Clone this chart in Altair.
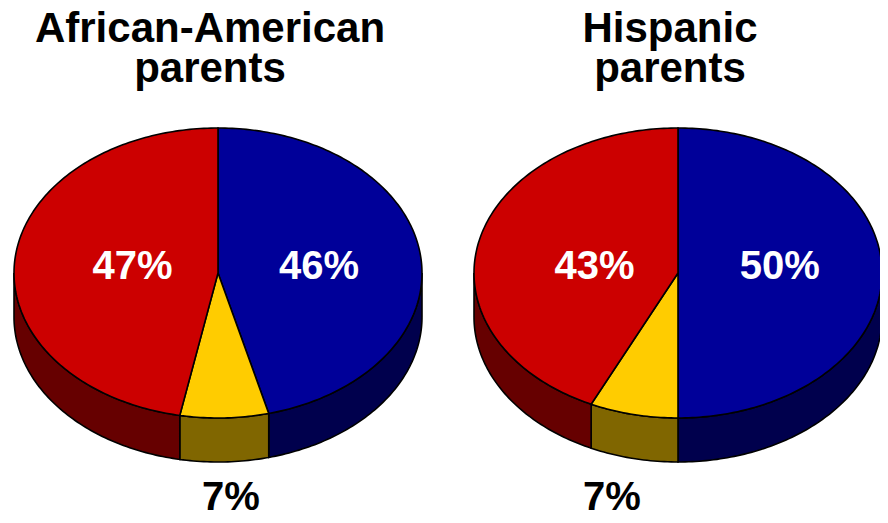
import numpy as np
import pandas as pd
import altair as alt

# ---- data ----
groups = ["African-American parents", "Hispanic parents"]
title_lines = [["African-American", "parents"], ["Hispanic", "parents"]]
slice_names = ["Blue segment", "Yellow segment", "Red segment"]
african_american = [46, 7, 47]
hispanic = [50, 7, 43]
group_values = [african_american, hispanic]

# ---- style / layout ----
top_colors = ["#000099", "#FFCC00", "#CC0000"]
side_colors = ["#00004D", "#806600", "#660000"]
label_colors = ["white", "black", "white"]
centers_x = [218, 678]
cy, rx, ry, depth = 273, 204, 145, 44
FONT = "Liberation Sans"


def pt(cx, deg, dy=0.0):
    r = np.deg2rad(deg)
    return [float(cx + rx * np.sin(r)), float(cy - ry * np.cos(r) + dy)]


def arc(cx, a, b, dy=0.0):
    n = max(2, int(np.ceil((b - a) / 1.0)) + 1)
    return [pt(cx, d, dy) for d in np.linspace(a, b, n)]


sides, tops, labels = [], [], []
for gi, (grp, vals) in enumerate(zip(groups, group_values)):
    cx = centers_x[gi]
    total = float(sum(vals))
    start = 0.0
    for si, v in enumerate(vals):
        a = start
        b = start + 360.0 * v / total
        start = b
        # top face
        ring = [[float(cx), float(cy)]] + arc(cx, a, b) + [[float(cx), float(cy)]]
        tops.append({"type": "Feature",
                     "geometry": {"type": "Polygon", "coordinates": [ring]},
                     "properties": {"fill": top_colors[si], "name": slice_names[si], "group": grp}})
        # visible side face (front half: 90..270 deg)
        lo, hi = max(a, 90.0), min(b, 270.0)
        if hi > lo:
            upper = arc(cx, lo, hi)
            lower = arc(cx, lo, hi, depth)[::-1]
            ring = upper + lower + [upper[0]]
            sides.append({"type": "Feature",
                          "geometry": {"type": "Polygon", "coordinates": [ring]},
                          "properties": {"fill": side_colors[si], "name": slice_names[si], "group": grp}})
        mid = np.deg2rad((a + b) / 2)
        if v >= 15:
            lx = cx + 8 + rx * 0.46 * np.sin(mid)
            ly = cy - 6
        else:
            lx = cx + 3 + rx * 1.55 * np.sin(mid)
            ly = cy + ry + depth + 36
        labels.append({"lon": float(lx), "lat": float(ly), "text": f"{v}%",
                       "color": label_colors[si]})

titles = []
for gi, lines in enumerate(title_lines):
    for li, line in enumerate(lines):
        titles.append({"lon": float(centers_x[gi] - 8), "lat": 42.0 + 40.0 * li, "text": line})

proj = dict(type="identity", scale=1, translate=[-8, -8])

side_layer = alt.Chart(alt.Data(values=sides)).mark_geoshape(
    stroke="black", strokeWidth=1.6
).encode(
    color=alt.Color("properties.fill:N", scale=None)
).project(**proj)

top_layer = alt.Chart(alt.Data(values=tops)).mark_geoshape(
    stroke="black", strokeWidth=1.6
).encode(
    color=alt.Color("properties.fill:N", scale=None)
).project(**proj)

label_layer = alt.Chart(pd.DataFrame(labels)).mark_text(
    font=FONT, fontWeight="bold", fontSize=40, baseline="middle", align="center"
).encode(
    longitude="lon:Q", latitude="lat:Q", text="text:N",
    color=alt.Color("color:N", scale=None)
).project(**proj)

title_layer = alt.Chart(pd.DataFrame(titles)).mark_text(
    font=FONT, fontWeight="bold", fontSize=42, baseline="alphabetic", align="center", color="black"
).encode(
    longitude="lon:Q", latitude="lat:Q", text="text:N"
).project(**proj)

chart = alt.layer(side_layer, top_layer, label_layer, title_layer).properties(
    width=872, height=515, padding=0, autosize="none", background="white"
).configure_view(stroke=None)

chart.save("out.html", embed_options={"renderer": "svg", "actions": False})
